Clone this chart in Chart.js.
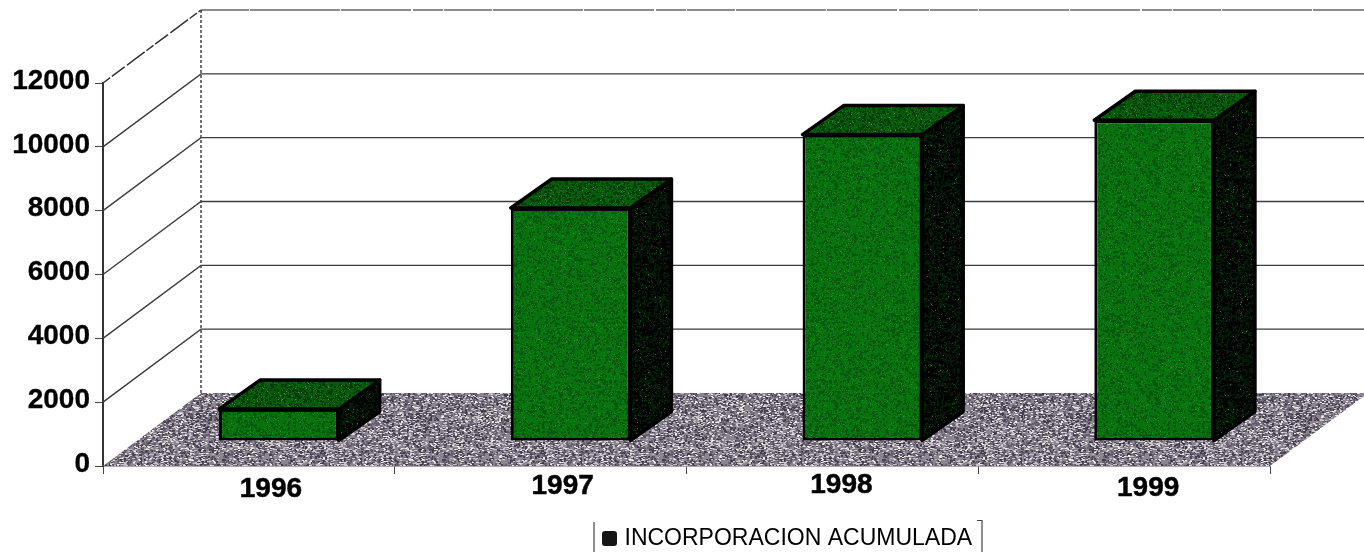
<!DOCTYPE html>
<html>
<head>
<meta charset="utf-8">
<style>html,body{margin:0;padding:0;background:#fff;overflow:hidden}canvas{display:block;filter:blur(0.45px)}</style>
<script src="https://cdn.jsdelivr.net/npm/chart.js@4"></script>
</head>
<body>
<canvas id="c" width="1364" height="552"></canvas>
<script>
const categories = ['1996', '1997', '1998', '1999'];
const seriesName = 'INCORPORACION ACUMULADA';
const values = [1000, 7300, 9600, 10050];
const yStep = 2000;
const yMax = 12000;

// scanned-print look: small per-label shifts and the 3D projection offsets
const labelNudgeX = [22, 22, 9, 24];
const labelNudgeY = [-2, -5, -6, -3];
const wallDepth = { x: 98, y: -73 };
const barDepth = { x: 41, y: -29 };
const barShift = { x: 30, y: -25 };

function speckle(base, dots, seed, blur) {
  const s = 220;
  const cv = document.createElement('canvas');
  cv.width = cv.height = s;
  const g = cv.getContext('2d');
  g.fillStyle = base;
  g.fillRect(0, 0, s, s);
  let r = seed;
  const next = () => { r = (r * 1664525 + 1013904223) >>> 0; return (r >>> 8) / 16777216; };
  const tmp = document.createElement('canvas');
  tmp.width = tmp.height = s;
  const t = tmp.getContext('2d');
  t.fillStyle = base;
  t.fillRect(0, 0, s, s);
  dots.forEach(d => {
    t.fillStyle = d.c;
    const n = Math.floor(s * s * d.f);
    for (let i = 0; i < n; i++) {
      t.fillRect(Math.floor(next() * s), Math.floor(next() * s), d.w, d.h || d.w);
    }
  });
  g.filter = 'blur(' + blur + 'px)';
  g.drawImage(tmp, 0, 0);
  g.filter = 'none';
  return cv;
}

const ctx0 = document.getElementById('c').getContext('2d');
const floorFill = ctx0.createPattern(speckle('#8a8590', [
  { c: '#453f4d', f: 0.11, w: 2, h: 2 },
  { c: '#66606e', f: 0.1, w: 2 },
  { c: '#c8c5ca', f: 0.11, w: 2, h: 1 },
  { c: '#eeece8', f: 0.035, w: 2, h: 1 }
], 7, 0.5), 'repeat');
const frontFill = ctx0.createPattern(speckle('#08700f', [
  { c: '#06580c', f: 0.12, w: 2 },
  { c: '#0c8414', f: 0.14, w: 1 },
  { c: '#259a2c', f: 0.008, w: 1 }
], 11, 0.5), 'repeat');
const topFill = ctx0.createPattern(speckle('#075a0c', [
  { c: '#043c08', f: 0.14, w: 2 },
  { c: '#0e7416', f: 0.12, w: 1 },
  { c: '#3a9a3f', f: 0.008, w: 1 }
], 23, 0.5), 'repeat');
const sideFill = ctx0.createPattern(speckle('#021a06', [
  { c: '#000000', f: 0.22, w: 2 },
  { c: '#0b4412', f: 0.04, w: 1 },
  { c: '#2f7a35', f: 0.004, w: 1 }
], 31, 0.5), 'repeat');

const legendMark = document.createElement('canvas');
legendMark.width = legendMark.height = 15;
(function () {
  const g = legendMark.getContext('2d');
  g.fillStyle = '#151515';
  g.beginPath();
  g.roundRect(0, 0, 15, 15, 3);
  g.fill();
})();

function poly(ctx, pts) {
  ctx.beginPath();
  pts.forEach((p, i) => i ? ctx.lineTo(p[0], p[1]) : ctx.moveTo(p[0], p[1]));
  ctx.closePath();
}

const stage3d = {
  id: 'stage3d',
  afterLayout(chart) {
    const lg = chart.legend;
    lg.left = 596; lg.right = 990; lg.top = 517; lg.bottom = 552;
    lg.width = 394; lg.height = 35;
    const xs = chart.scales.x;
    xs.getLabelItems(chart.chartArea).forEach((it, i) => {
      if (it._moved) return;
      it._moved = true;
      it.options.translation = [
        it.options.translation[0] + labelNudgeX[i],
        it.options.translation[1] + labelNudgeY[i]
      ];
    });
  },
  beforeDatasetsDraw(chart) {
    const { ctx, chartArea: a, scales: { y } } = chart;
    const dx = wallDepth.x, dy = wallDepth.y;
    ctx.save();
    // floor
    poly(ctx, [[a.left, a.bottom], [a.right, a.bottom], [a.right + dx, a.bottom + dy], [a.left + dx, a.bottom + dy]]);
    ctx.fillStyle = floorFill;
    ctx.fill();
    // grid on the side wall and back wall
    y.ticks.forEach(t => {
      if (t.value === 0) return;
      const py = y.getPixelForValue(t.value);
      if (t.value === yMax) {
        ctx.beginPath();
        ctx.moveTo(a.left + dx, py + dy);
        ctx.lineTo(a.right + dx, py + dy);
        ctx.lineWidth = 2;
        ctx.strokeStyle = '#8c8c8c';
        ctx.setLineDash([48, 1, 90, 1, 70, 2, 30, 1]);
        ctx.stroke();
        ctx.beginPath();
        ctx.moveTo(a.left, py);
        ctx.lineTo(a.left + dx, py + dy);
        ctx.lineWidth = 1.5;
        ctx.strokeStyle = '#333';
        ctx.setLineDash([9, 2, 16, 3, 22, 2]);
        ctx.stroke();
        ctx.setLineDash([]);
        return;
      }
      ctx.beginPath();
      ctx.moveTo(a.left, py);
      ctx.lineTo(a.left + dx, py + dy);
      ctx.lineTo(a.right + dx, py + dy);
      ctx.lineWidth = 1.4;
      ctx.strokeStyle = '#3c3c3c';
      ctx.stroke();
    });
    // back corner
    ctx.setLineDash([3, 2]);
    ctx.lineWidth = 1.5;
    ctx.strokeStyle = '#444';
    ctx.beginPath();
    ctx.moveTo(a.left + dx, y.getPixelForValue(yMax) + dy);
    ctx.lineTo(a.left + dx, a.bottom + dy);
    ctx.stroke();
    ctx.setLineDash([]);
    // legend frame pieces
    ctx.strokeStyle = '#444';
    ctx.lineWidth = 1.2;
    ctx.beginPath();
    ctx.moveTo(594, 522); ctx.lineTo(594, 552);
    ctx.moveTo(977, 520.5); ctx.lineTo(982, 520.5); ctx.lineTo(982, 552);
    ctx.stroke();
    ctx.restore();
  },
  beforeDatasetDraw(chart, args) {
    const { ctx } = chart;
    ctx.save();
    ctx.translate(barShift.x, barShift.y);
    const ddx = barDepth.x, ddy = barDepth.y;
    args.meta.data.forEach(bar => {
      const p = bar.getProps(['x', 'y', 'base', 'width'], true);
      const l = p.x - p.width / 2, r = p.x + p.width / 2, t = p.y, b = p.base;
      ctx.lineJoin = 'round';
      ctx.lineWidth = 3.5;
      ctx.strokeStyle = '#000';
      poly(ctx, [[r, t], [r + ddx, t + ddy], [r + ddx, b + ddy], [r, b]]);
      ctx.fillStyle = sideFill;
      ctx.fill();
      ctx.stroke();
      poly(ctx, [[l, t], [r, t], [r + ddx, t + ddy], [l + ddx, t + ddy]]);
      ctx.fillStyle = topFill;
      ctx.fill();
      ctx.stroke();
    });
  },
  afterDatasetDraw(chart) {
    chart.ctx.restore();
  }
};

const boldFont = { family: '"Liberation Sans", Arial, sans-serif', size: 28, weight: 'bold' };

new Chart(ctx0, {
  type: 'bar',
  data: {
    labels: categories,
    datasets: [{
      label: seriesName,
      data: values,
      backgroundColor: frontFill,
      borderColor: '#000',
      borderWidth: 3,
      borderSkipped: false,
      barPercentage: 0.41,
      categoryPercentage: 1,
      clip: false
    }]
  },
  options: {
    responsive: false,
    animation: false,
    events: [],
    layout: { padding: { left: 0, top: 83, right: 94, bottom: 0 } },
    plugins: {
      tooltip: { enabled: false },
      title: { display: false },
      legend: {
        position: 'chartArea',
        align: 'start',
        labels: {
          usePointStyle: true,
          pointStyleWidth: 7,
          boxHeight: 15,
          padding: 10,
          color: '#111',
          font: { family: '"Liberation Sans", Arial, sans-serif', size: 23 },
          generateLabels: () => [{
            text: seriesName, fillStyle: '#151515', strokeStyle: '#151515',
            lineWidth: 0, hidden: false, datasetIndex: 0, pointStyle: legendMark
          }]
        }
      }
    },
    scales: {
      x: {
        z: 1,
        afterFit: s => { s.height = 86; },
        grid: { drawOnChartArea: false, drawTicks: true, tickLength: 8, color: '#444', offset: true },
        border: { display: true, color: '#555', width: 1.5 },
        ticks: {
          padding: 0,
          autoSkip: false,
          maxRotation: 0,
          color: '#000',
          textStrokeColor: '#000',
          textStrokeWidth: 0.5,
          font: boldFont
        }
      },
      y: {
        z: 1,
        min: 0,
        max: yMax,
        afterFit: s => { s.width = 103; },
        grid: { drawOnChartArea: false, drawTicks: true, tickLength: 8, color: '#444' },
        border: { display: true, color: '#333', width: 2 },
        ticks: {
          stepSize: yStep,
          padding: 5,
          labelOffset: -2,
          color: '#000',
          textStrokeColor: '#000',
          textStrokeWidth: 0.3,
          font: boldFont,
          callback: v => String(v)
        }
      }
    }
  },
  plugins: [stage3d]
});
</script>
</body>
</html>
